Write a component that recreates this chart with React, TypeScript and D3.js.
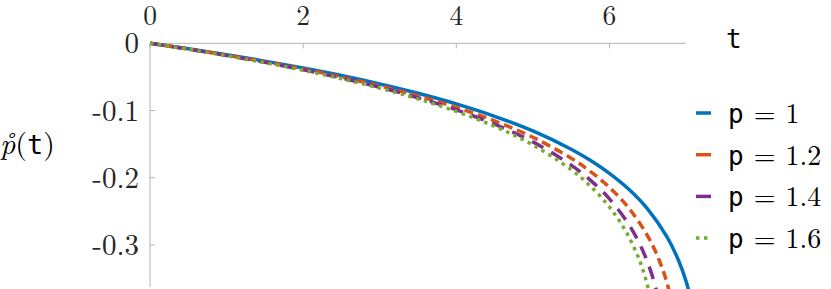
import React from "react";
import * as d3 from "d3";

const tBlue = [0, 0.5, 1, 1.5, 2, 2.5, 3, 3.5, 4, 4.5, 5, 5.5, 5.75, 6, 6.25, 6.5, 6.75, 6.9, 7.0, 7.1];
const p1 = [0, -0.0082, -0.017, -0.0265, -0.0368, -0.048, -0.0605, -0.0744, -0.0902, -0.1086, -0.1304, -0.1575, -0.174, -0.1934, -0.2168, -0.2466, -0.2876, -0.3223, -0.3536, -0.3978];

const tRed = [0, 0.5, 1, 1.5, 2, 2.5, 3, 3.5, 4, 4.5, 5, 5.5, 5.75, 6, 6.25, 6.5, 6.65, 6.75, 6.85];
const p12 = [0, -0.0085, -0.0177, -0.0276, -0.0383, -0.0502, -0.0634, -0.0783, -0.0953, -0.1154, -0.1398, -0.1709, -0.1905, -0.2143, -0.2447, -0.2867, -0.3227, -0.3557, -0.4031];

const tPurple = [0, 0.5, 1, 1.5, 2, 2.5, 3, 3.5, 4, 4.5, 5, 5.5, 5.75, 6, 6.25, 6.4, 6.5, 6.6, 6.7];
const p14 = [0, -0.0087, -0.0181, -0.0283, -0.0394, -0.0517, -0.0654, -0.081, -0.099, -0.1204, -0.1467, -0.1812, -0.2035, -0.2314, -0.2689, -0.2996, -0.3263, -0.3616, -0.4142];

const tGreen = [0, 0.5, 1, 1.5, 2, 2.5, 3, 3.5, 4, 4.5, 5, 5.5, 5.75, 6, 6.2, 6.35, 6.45, 6.55];
const p16 = [0, -0.0088, -0.0184, -0.0288, -0.0401, -0.0527, -0.0667, -0.0827, -0.1013, -0.1235, -0.1512, -0.188, -0.2123, -0.2435, -0.2769, -0.311, -0.3415, -0.3841];

const xTicks = [0, 2, 4, 6];
const yTicks = [0, -0.1, -0.2, -0.3];
const yTickLabels = ["0", "-0.1", "-0.2", "-0.3"];
const legendValues = ["1", "1.2", "1.4", "1.6"];

const series = [
  { t: tBlue, v: p1, color: "#0072BD", dash: "none", width: 3.5 },
  { t: tRed, v: p12, color: "#D95319", dash: "9 5", width: 3.5 },
  { t: tPurple, v: p14, color: "#7E2F8E", dash: "13 9", width: 3.5 },
  { t: tGreen, v: p16, color: "#77AC30", dash: "3.5 4.5", width: 3.5 },
];

const W = 831;
const H = 289;
const SERIF = "'Latin Modern Roman', 'CMU Serif', 'Liberation Serif', serif";
const MONO = "'DejaVu Sans Mono', 'Liberation Mono', monospace";

export default function App() {
  const x = d3.scaleLinear().domain([0, 7]).range([150, 686]);
  const y = d3.scaleLinear().domain([0, -0.3655]).range([43.3, 289]);
  const line = d3
    .line<[number, number]>()
    .x((d) => x(d[0]))
    .y((d) => y(d[1]))
    .curve(d3.curveCatmullRom.alpha(0.5));
  const axisColor = "#b3b3b3";
  const legendY0 = 113;
  const legendStep = 41.7;

  return (
    <svg
      width={W}
      height={H}
      style={{ position: "absolute", left: 0, top: 0, background: "#fff" }}
    >
      <defs>
        <clipPath id="plotclip">
          <rect x={x(0)} y={y(0) - 10} width={x(7) - x(0) + 10} height={H} />
        </clipPath>
      </defs>
      <line x1={x(0)} x2={x(7)} y1={y(0)} y2={y(0)} stroke={axisColor} strokeWidth={1} />
      <line x1={x(0)} x2={x(0)} y1={y(0)} y2={H - 2} stroke={axisColor} strokeWidth={1} />
      {xTicks.map((t) => (
        <g key={"xt" + t}>
          <line x1={x(t)} x2={x(t)} y1={y(0)} y2={y(0) + 5} stroke={axisColor} strokeWidth={1} />
          <text
            x={x(t)}
            y={25}
            textAnchor="middle"
            fontFamily={SERIF}
            fontSize={27.5}
            fill="#262626"
          >
            {t}
          </text>
        </g>
      ))}
      {yTicks.map((v, i) => (
        <g key={"yt" + i}>
          <line x1={x(0)} x2={x(0) + 5} y1={y(v)} y2={y(v)} stroke={axisColor} strokeWidth={1} />
          <text
            x={139}
            y={y(v) + 10}
            textAnchor="end"
            fontFamily={SERIF}
            fontSize={29}
            fill="#262626"
          >
            {yTickLabels[i]}
          </text>
        </g>
      ))}
      <text x={726} y={48} fontFamily={MONO} fontSize={26} fill="#000">
        t
      </text>
      <text x={0} y={154} fontSize={30} fill="#000">
        <tspan fontFamily={SERIF} fontStyle="italic">
          {"p\u030A"}
        </tspan>
        <tspan fontFamily={SERIF}>(</tspan>
        <tspan fontFamily={MONO} fontSize={27}>
          t
        </tspan>
        <tspan fontFamily={SERIF}>)</tspan>
      </text>
      <g clipPath="url(#plotclip)">
        {series.map((s, i) => (
          <path
            key={"s" + i}
            d={line(s.t.map((t, j) => [t, s.v[j]] as [number, number])) || ""}
            fill="none"
            stroke={s.color}
            strokeWidth={s.width}
            strokeDasharray={s.dash}
          />
        ))}
      </g>
      {series.map((s, i) => {
        const ly = legendY0 + i * legendStep;
        return (
          <g key={"lg" + i}>
            <line
              x1={696}
              x2={711}
              y1={ly}
              y2={ly}
              stroke={s.color}
              strokeWidth={s.width}
              strokeDasharray={i === 3 ? "3.5 4.5" : "none"}
            />
            <text x={728} y={ly + 10} fontSize={28} fill="#000">
              <tspan fontFamily={MONO} fontSize={26}>p</tspan>
              <tspan fontFamily={SERIF} dx={10}>=</tspan>
              <tspan fontFamily={SERIF} dx={10}>{legendValues[i]}</tspan>
            </text>
          </g>
        );
      })}
    </svg>
  );
}
